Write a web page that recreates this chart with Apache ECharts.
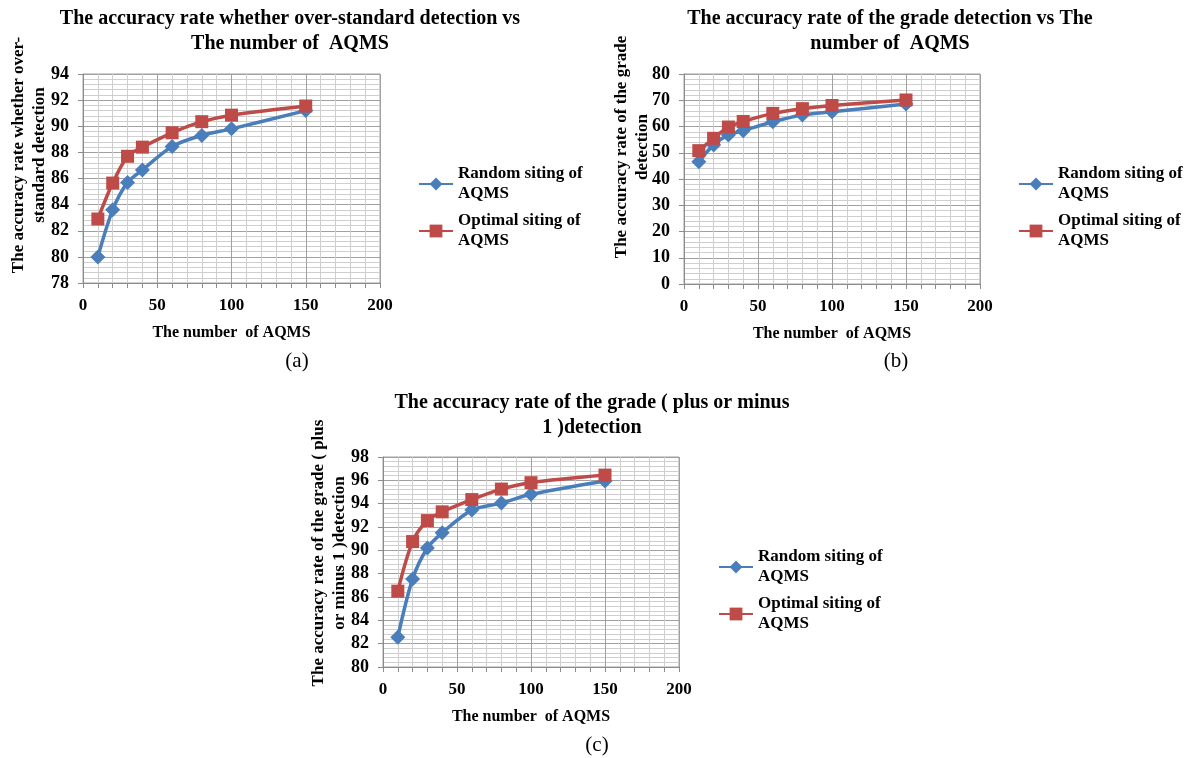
<!DOCTYPE html>
<html>
<head>
<meta charset="utf-8">
<script src="https://cdn.jsdelivr.net/npm/echarts@6/dist/echarts.min.js"></script>
<style>
  html, body { margin: 0; padding: 0; background: #fff; }
  #main { width: 1187px; height: 758px; }
</style>
</head>
<body>
<div id="main"></div>
<script>
// number of AQMS (x values shared by the three panels)
const aqms = [10, 20, 30, 40, 60, 80, 100, 150];

// (a) over-standard detection
const randomA = [80.0, 83.6, 85.7, 86.65, 88.45, 89.3, 89.8, 91.2];
const optimalA = [82.9, 85.65, 87.7, 88.4, 89.5, 90.35, 90.85, 91.55];
// (b) grade detection
const randomB = [46.6, 53.0, 56.8, 58.4, 61.8, 64.4, 65.6, 68.6];
const optimalB = [50.8, 55.5, 59.8, 61.9, 65.0, 66.8, 68.0, 70.1];
// (c) grade (plus or minus 1) detection
const randomC = [82.55, 87.55, 90.2, 91.5, 93.45, 94.05, 94.8, 95.95];
const optimalC = [86.5, 90.75, 92.55, 93.3, 94.35, 95.25, 95.8, 96.45];

const seriesNames = ['Random siting of AQMS', 'Optimal siting of AQMS'];
const yRanges = [[78, 94, 2], [0, 80, 10], [80, 98, 2]];

var font = '"Liberation Serif", "Times New Roman", serif';
var blue = '#4a7ebb';
var red = '#be4b48';

function pairs(ys) {
    return aqms.map(function (x, i) { return [x, ys[i]]; });
}

var grids = [
    { left: 83, top: 74, width: 297, height: 209 },
    { left: 684, top: 74, width: 296, height: 210 },
    { left: 383, top: 457, width: 296, height: 210 }
];

var xAxes = grids.map(function (g, i) {
    return {
        type: 'value', gridIndex: i, min: 0, max: 200, interval: 50,
        name: 'The number  of AQMS', nameLocation: 'middle', nameGap: 42,
        nameTextStyle: { fontFamily: font, fontWeight: 'bold', fontSize: 16, color: '#000' },
        axisLine: { lineStyle: { color: '#8c8c8c' } },
        axisTick: { show: true, length: 5, lineStyle: { color: '#8c8c8c' } },
        minorTick: { show: true, splitNumber: 5, length: 5, lineStyle: { color: '#8c8c8c' } },
        axisLabel: { fontFamily: font, fontWeight: 'bold', fontSize: 17, color: '#000', margin: 14 },
        splitLine: { show: true, lineStyle: { color: '#a0a0a0' } },
        minorSplitLine: { show: true, lineStyle: { color: '#cfcfcf' } }
    };
});

var yAxes = yRanges.map(function (r, i) {
    return {
        type: 'value', gridIndex: i, min: r[0], max: r[1], interval: r[2],
        axisLine: { show: true, lineStyle: { color: '#8c8c8c' } },
        axisTick: { show: true, length: 5, lineStyle: { color: '#8c8c8c' } },
        axisLabel: { fontFamily: font, fontWeight: 'bold', fontSize: 18, color: '#000', margin: 14 },
        splitLine: { show: true, lineStyle: { color: '#a0a0a0' } },
        minorTick: { show: false, splitNumber: 5 },
        minorSplitLine: { show: true, lineStyle: { color: '#cfcfcf' } }
    };
});

var sets = [[randomA, optimalA], [randomB, optimalB], [randomC, optimalC]];
var series = [];
sets.forEach(function (s, i) {
    series.push({
        name: seriesNames[0], type: 'line', xAxisIndex: i, yAxisIndex: i,
        data: pairs(s[0]), smooth: 0.3,
        symbol: 'diamond', symbolSize: 15,
        lineStyle: { color: blue, width: 3.5 },
        itemStyle: { color: blue }
    });
    series.push({
        name: seriesNames[1], type: 'line', xAxisIndex: i, yAxisIndex: i,
        data: pairs(s[1]), smooth: 0.3,
        symbol: 'rect', symbolSize: 13,
        lineStyle: { color: red, width: 3.5 },
        itemStyle: { color: red }
    });
});

var legendPos = [[418, 154], [1018, 154], [718, 537]];
var legends = [];
legendPos.forEach(function (p) {
    seriesNames.forEach(function (n, k) {
        legends.push({
            left: p[0], top: p[1] + k * 47, orient: 'vertical',
            data: [n], itemWidth: 34, itemHeight: 16, padding: 0,
            formatter: function (name) { return name.replace(' AQMS', '\nAQMS'); },
            textStyle: { fontFamily: font, fontWeight: 'bold', fontSize: 17, color: '#000',
                lineHeight: 20, padding: [20, 0, 0, 0] }
        });
    });
});

var titleStyle = { fontFamily: font, fontWeight: 'bold', fontSize: 20, color: '#000', lineHeight: 25 };
var titles = [
    { text: 'The accuracy rate whether over-standard detection vs\nThe number of  AQMS', left: 290, top: 6 },
    { text: 'The accuracy rate of the grade detection vs The\nnumber of  AQMS', left: 890, top: 6 },
    { text: 'The accuracy rate of the grade ( plus or minus\n1 )detection', left: 592, top: 390 }
].map(function (t) {
    t.textAlign = 'center'; t.padding = 0; t.textStyle = titleStyle;
    return t;
});

var yNames = [
    ['The accuracy rate whether over-\nstandard detection', 29.5, 155],
    ['The accuracy rate of the grade\ndetection', 632, 147],
    ['The accuracy rate of the grade ( plus\nor minus 1 )detection', 329.5, 553]
];
var captions = [['(a)', 297, 361], ['(b)', 896, 361], ['(c)', 597, 745]];

var graphics = yNames.map(function (t) {
    return {
        type: 'text', x: t[1], y: t[2], rotation: Math.PI / 2,
        style: { text: t[0], fontFamily: font, fontWeight: 'bold', fontSize: 17, lineHeight: 21,
            fill: '#000', align: 'center', verticalAlign: 'middle' }
    };
}).concat(captions.map(function (c) {
    return {
        type: 'text', x: c[1], y: c[2],
        style: { text: c[0], fontFamily: font, fontSize: 21, fill: '#000',
            align: 'center', verticalAlign: 'middle' }
    };
}));

var myChart = echarts.init(document.getElementById('main'));
var option = {
    animation: false,
    backgroundColor: '#fff',
    title: titles,
    legend: legends,
    grid: grids.map(function (g) {
        return Object.assign({ show: true, borderColor: '#a0a0a0', borderWidth: 1 }, g);
    }),
    xAxis: xAxes,
    yAxis: yAxes,
    series: series,
    graphic: graphics
};
myChart.setOption(option);
window.addEventListener('resize', function () {
    myChart.resize();
});
</script>
</body>
</html>
